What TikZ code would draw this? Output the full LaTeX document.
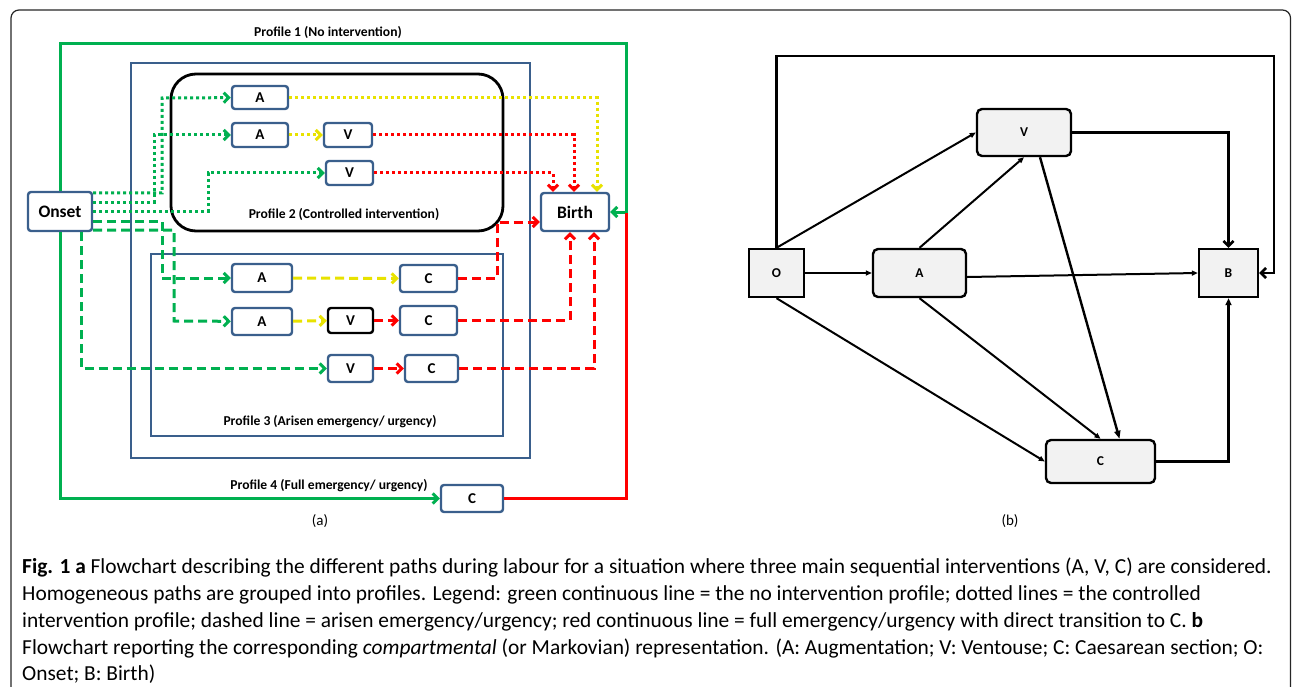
\documentclass[tikz,border=0pt]{standalone}
\usepackage{fontspec}
\setmainfont{Carlito}
\usetikzlibrary{arrows.meta,calc}

\definecolor{boxblue}{RGB}{58,95,140}
\definecolor{pgreen}{RGB}{0,176,80}
\definecolor{pred}{RGB}{255,0,0}
\definecolor{pyellow}{RGB}{232,226,0}
\definecolor{lgray}{RGB}{242,242,242}

\tikzset{
  lbox/.style={draw=boxblue, line width=2.4pt, fill=white, rounded corners=3pt, inner sep=0pt, font=\bfseries\fontsize{15}{15}\selectfont},
  mbox/.style={draw=black, line width=2.4pt, fill=lgray, inner sep=0pt, font=\bfseries\fontsize{13.5}{13.5}\selectfont},
  plabel/.style={inner sep=0pt, font=\bfseries\fontsize{13.6}{13.6}\selectfont},
  capline/.style={inner sep=0pt, anchor=base west, font=\fontsize{21.4}{21.4}\selectfont},
  barb/.style={-{Straight Barb[length=5pt,width=10pt]}},
  gdot/.style={draw=pgreen, line width=3pt, dash pattern=on 3pt off 3pt},
  ydot/.style={draw=pyellow, line width=3pt, dash pattern=on 3pt off 3pt},
  rdot/.style={draw=pred, line width=3pt, dash pattern=on 3pt off 3pt},
  gdash/.style={draw=pgreen, line width=3pt, dash pattern=on 9pt off 5pt},
  ydash/.style={draw=pyellow, line width=3pt, dash pattern=on 9pt off 5pt},
  rdash/.style={draw=pred, line width=3pt, dash pattern=on 9pt off 5pt},
  thin arrow/.style={line width=2pt, -{Triangle[length=6pt,width=5pt]}}
}

\begin{document}
\begin{tikzpicture}[x=1pt,y=-1pt]
\useasboundingbox (0,0) rectangle (1292,687);
\draw[line width=1.2pt, draw=black!85, rounded corners=8pt] (11,700) -- (11,10) -- (1290.5,10) -- (1290.5,700);

% panel (a)
\begin{scope}
\draw[boxblue, line width=1.6pt] (131,63) rectangle (530,458);
\draw[line width=2.8pt, rounded corners=25pt] (171,74) rectangle (503,231);
\draw[boxblue, line width=1.6pt] (151,254) rectangle (503,436);
\node[plabel] (p1) at (328,32) {Profile 1 (No intervention)};
\node[plabel] (p2) at (344,214) {Profile 2 (Controlled intervention)};
\node[plabel] (p3) at (330,422) {Profile 3 (Arisen emergency/ urgency)};
\node[plabel] (p4) at (329,486) {Profile 4 (Full emergency/ urgency)};

\node[lbox, minimum width=64pt, minimum height=39pt, font=\bfseries\fontsize{17.5}{17.5}\selectfont] (onset) at (60,211.5) {Onset};
\node[lbox, minimum width=68pt, minimum height=38pt, font=\bfseries\fontsize{17.5}{17.5}\selectfont] (birth) at (575,212) {Birth};
\node[lbox, minimum width=56pt, minimum height=23pt] (a1) at (260,97.5) {A};
\node[lbox, minimum width=56pt, minimum height=24pt] (a2) at (260,135) {A};
\node[lbox, minimum width=48pt, minimum height=24pt] (v2) at (348,135) {V};
\node[lbox, minimum width=47pt, minimum height=24pt] (v3) at (349.5,173) {V};
\node[lbox, minimum width=60pt, minimum height=28pt] (a3) at (262,278) {A};
\node[lbox, minimum width=57pt, minimum height=27pt] (c3) at (428.5,278.5) {C};
\node[lbox, minimum width=60pt, minimum height=27pt] (a4) at (262,321.5) {A};
\node[lbox, draw=black, minimum width=45pt, minimum height=25pt] (v4) at (350.5,320.5) {V};
\node[lbox, minimum width=57pt, minimum height=29pt] (c4) at (428.5,320.5) {C};
\node[lbox, minimum width=45pt, minimum height=27pt] (v5) at (350.5,368.5) {V};
\node[lbox, minimum width=53pt, minimum height=27pt] (c5) at (431.5,368.5) {C};
\node[lbox, minimum width=62pt, minimum height=27pt] (c6) at (472,498.5) {C};

% profile 1 and 4
\draw[draw=pgreen, line width=3pt, barb] (onset.north) |- (626,44) |- (birth.east);
\draw[draw=pgreen, line width=3pt, barb] (onset.south) |- (c6);
\draw[draw=pred, line width=3pt] (c6.east) -| (626,213);
% profile 2
\draw[gdot, barb] (onset.east |- 0,193) -| (162,98) -- (a1);
\draw[gdot, barb] (onset.east |- 0,202) -| (154,135) -- (a2);
\draw[gdot, barb] (onset.east |- 0,211) -| (208,173) -- (v3);
\draw[ydot, barb] (a1.east) -| ($(birth.north)+(22,0)$);
\draw[ydot, barb] (a2) -- (v2);
\draw[rdot, barb] (v2.east) -| ($(birth.north)+(-1,0)$);
\draw[rdot, barb] (v3.east) -| ($(birth.north)+(-22,0)$);
% profile 3
\draw[gdash, barb] (onset.east |- 0,221) -| (162,278) -- (a3);
\draw[gdash, barb] (onset.east |- 0,230) -| (174,321) -- (a4);
\draw[gdash, barb] (onset.south -| 81,0) |- (v5);
\draw[ydash, barb] (a3) -- (c3);
\draw[ydash, barb] (a4) -- (v4);
\draw[rdash, barb] (v4) -- (c4);
\draw[rdash, barb] (v5) -- (c5);
\draw[rdash, barb] (c3.east) -| (497,222) -- (birth.west |- 0,222);
\draw[rdash, barb] (c4.east) -| ($(birth.south)+(-5,0)$);
\draw[rdash, barb] (c5.east) -| ($(birth.south)+(19,0)$);

\node[font=\fontsize{15}{15}\selectfont] (lbla) at (320,521) {(a)};
\end{scope}

% panel (b)
\begin{scope}
\node[mbox, minimum width=55pt, minimum height=48pt] (o) at (776.5,273) {O};
\node[mbox, rounded corners=5pt, minimum width=93pt, minimum height=48pt] (a) at (919.5,273) {A};
\node[mbox, rounded corners=5pt, minimum width=94pt, minimum height=47pt] (v) at (1024,132.5) {V};
\node[mbox, minimum width=59pt, minimum height=48pt] (b) at (1228.5,273) {B};
\node[mbox, rounded corners=5pt, minimum width=109pt, minimum height=43pt] (c) at (1100.5,461.5) {C};

\draw[line width=2.6pt, barb] (o.north) |- (1274,56) |- (b.east);
\draw[line width=2.6pt, barb] (v.east) -| (b.north);
\draw[thin arrow] (o) -- (a);
\draw[thin arrow] (o.north) -- (v.west);
\draw[thin arrow] (a.north) -- (v.south);
\draw[thin arrow] ([yshift=-4pt]a.east) -- (b.west);
\draw[thin arrow] (o.south) -- (c.west);
\draw[thin arrow] (a.south) -- (c.north);
\draw[line width=2.4pt, -{Triangle[length=8pt,width=6pt]}] ($(v.south)+(16,0)$) -- ($(c.north)+(19,0)$);
\draw[line width=2.4pt, -{Triangle[length=7pt,width=6pt]}] (c.east) -| (b.south);

\node[font=\fontsize{15}{15}\selectfont] (lblb) at (1010,521) {(b)};
\end{scope}

% caption
\node[capline] (cap1) at (22,573) {\textbf{Fig. 1 a} Flowchart describing the different paths during labour for a situation where three main sequential interventions (A, V, C) are considered.};
\node[capline] (cap2) at (22,600) {Homogeneous paths are grouped into profiles. Legend: green continuous line = the no intervention profile; dotted lines = the controlled};
\node[capline] (cap3) at (22,627) {intervention profile; dashed line = arisen emergency/urgency; red continuous line = full emergency/urgency with direct transition to C. \textbf{b}};
\node[capline] (cap4) at (22,654) {Flowchart reporting the corresponding \textit{compartmental} (or Markovian) representation. (A: Augmentation; V: Ventouse; C: Caesarean section; O:};
\node[capline] (cap5) at (22,680) {Onset; B: Birth)};
\end{tikzpicture}
\end{document}
